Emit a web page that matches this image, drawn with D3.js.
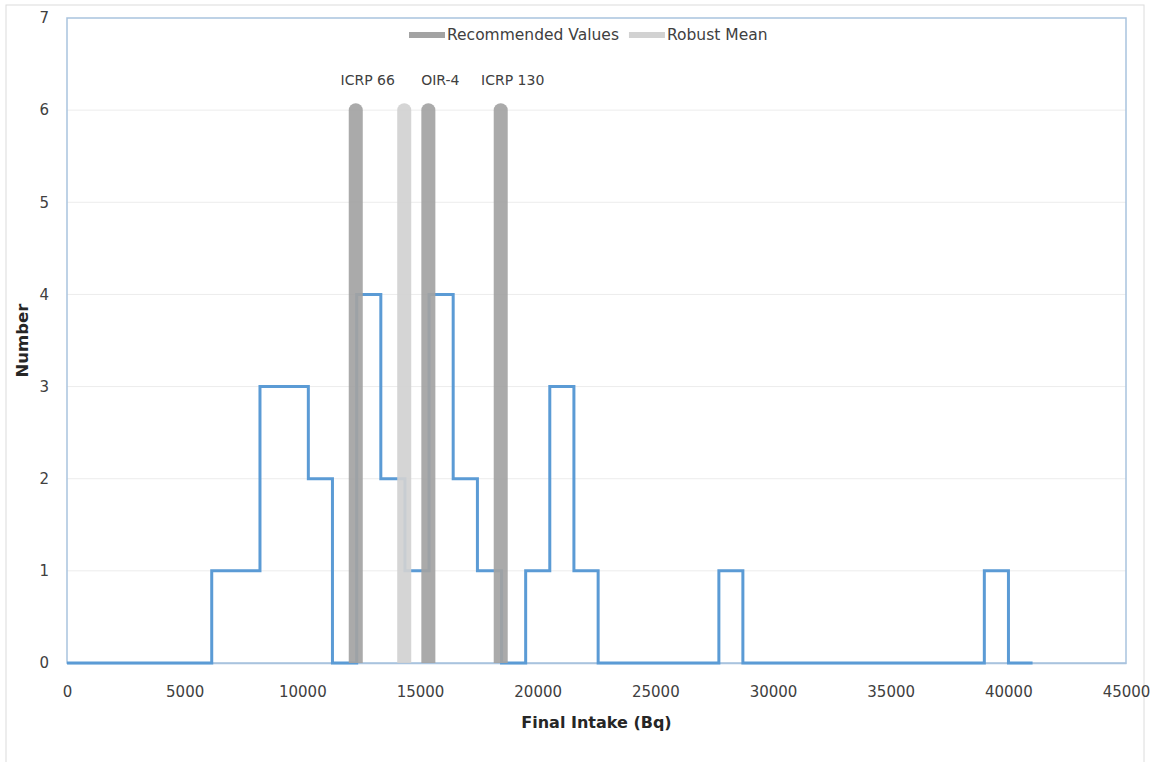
<!DOCTYPE html>
<html>
<head>
<meta charset="utf-8">
<script src="https://cdn.jsdelivr.net/npm/d3@7"></script>
<style>
  body { margin: 0; background: #fff; }
  svg text { font-family: "DejaVu Sans", sans-serif; }
</style>
</head>
<body>
<div id="chart"></div>
<script>
// histogram steps: left edge of each bin and its count (last entry closes the line)
var binStarts = [0, 6150, 8200, 10255, 11280, 12310, 13335, 14360, 15385, 16410, 17440,
                 18465, 19490, 20515, 21540, 22570, 27700, 28720, 38980, 40005, 41030];
var binCounts = [0, 1, 3, 2, 0, 4, 2, 1, 4, 2, 1, 0, 1, 3, 1, 0, 1, 0, 1, 0, 0];

// reference values
var recNames = ["ICRP 66", "OIR-4", "ICRP 130"];
var recValues = [12270, 15355, 18430];
var robustMean = 14330;
var barTop = 6;

var xTicks = [0, 5000, 10000, 15000, 20000, 25000, 30000, 35000, 40000, 45000];
var yTicks = [0, 1, 2, 3, 4, 5, 6, 7];
var legendNames = ["Recommended Values", "Robust Mean"];

var W = 1166, H = 762;
var plotL = 67, plotR = 1126, plotT = 18, plotB = 663;

var svg = d3.select("#chart").append("svg")
    .attr("width", W)
    .attr("height", H);

var x = d3.scaleLinear().domain([0, 45000]).range([plotL, plotR]);
var y = d3.scaleLinear().domain([0, 7]).range([plotB, plotT]);

// faint outer frame
svg.append("rect")
    .attr("x", 6).attr("y", 5)
    .attr("width", 1138).attr("height", 770)
    .attr("fill", "none").attr("stroke", "#dcdcdc").attr("stroke-width", 1);

// gridlines
svg.append("g").selectAll("line")
    .data(yTicks.slice(1, -1))
    .enter().append("line")
    .attr("x1", plotL).attr("x2", plotR)
    .attr("y1", function (d) { return y(d); })
    .attr("y2", function (d) { return y(d); })
    .attr("stroke", "#ececec").attr("stroke-width", 1);

// plot area border
svg.append("rect")
    .attr("x", plotL).attr("y", plotT)
    .attr("width", plotR - plotL).attr("height", plotB - plotT)
    .attr("fill", "none").attr("stroke", "#a9c3de").attr("stroke-width", 1.5);

// axes (labels only)
var xAxis = svg.append("g")
    .attr("transform", "translate(0," + plotB + ")")
    .call(d3.axisBottom(x).tickValues(xTicks).tickSize(0).tickPadding(23).tickFormat(d3.format("d")));
xAxis.select(".domain").attr("stroke", "#a9c3de").attr("stroke-width", 1.5);
xAxis.selectAll("text").attr("font-size", 15).attr("fill", "#404040")
    .style("font-family", "DejaVu Sans, sans-serif");

var yAxis = svg.append("g")
    .attr("transform", "translate(" + plotL + ",0)")
    .call(d3.axisLeft(y).tickValues(yTicks).tickSize(0).tickPadding(18).tickFormat(d3.format("d")));
yAxis.select(".domain").remove();
yAxis.selectAll("text").attr("font-size", 15).attr("fill", "#404040")
    .style("font-family", "DejaVu Sans, sans-serif");

// histogram step line
var pts = binStarts.map(function (d, i) { return [d, binCounts[i]]; });
var line = d3.line()
    .x(function (d) { return x(d[0]); })
    .y(function (d) { return y(d[1]); })
    .curve(d3.curveStepAfter);

svg.append("path")
    .datum(pts)
    .attr("d", line)
    .attr("fill", "none")
    .attr("stroke", "#5b9bd5")
    .attr("stroke-width", 3);

// vertical reference bars
svg.append("clipPath").attr("id", "plotclip")
    .append("rect").attr("x", plotL).attr("y", 0)
    .attr("width", plotR - plotL).attr("height", plotB);

var bars = svg.append("g").attr("clip-path", "url(#plotclip)");

bars.append("line")
    .attr("x1", x(robustMean)).attr("x2", x(robustMean))
    .attr("y1", y(0) + 8).attr("y2", y(barTop))
    .attr("stroke", "#d2d2d2").attr("stroke-width", 14)
    .attr("stroke-linecap", "round").attr("opacity", 0.92);

bars.selectAll(".rec")
    .data(recValues)
    .enter().append("line")
    .attr("class", "rec")
    .attr("x1", function (d) { return x(d); })
    .attr("x2", function (d) { return x(d); })
    .attr("y1", y(0) + 8).attr("y2", y(barTop))
    .attr("stroke", "#a3a3a3").attr("stroke-width", 14)
    .attr("stroke-linecap", "round").attr("opacity", 0.92);

svg.selectAll(".reclabel")
    .data(recValues)
    .enter().append("text")
    .attr("class", "reclabel")
    .attr("x", function (d) { return x(d) + 12; })
    .attr("y", y(barTop) - 30)
    .attr("dy", "0.35em")
    .attr("text-anchor", "middle")
    .attr("font-size", 14)
    .attr("fill", "#404040")
    .text(function (d, i) { return recNames[i]; });

// legend
var legend = svg.append("g");
var lx = 409, ly = 35;
var legColors = ["#a3a3a3", "#d2d2d2"];
legendNames.forEach(function (name, i) {
    legend.append("line")
        .attr("x1", lx).attr("x2", lx + 36)
        .attr("y1", ly).attr("y2", ly)
        .attr("stroke", legColors[i]).attr("stroke-width", 6);
    var t = legend.append("text")
        .attr("x", lx + 38).attr("y", ly)
        .attr("dy", "0.35em")
        .attr("font-size", 15.5)
        .attr("fill", "#404040")
        .text(name);
    lx = lx + 38 + t.node().getComputedTextLength() + 10;
});

// axis titles
svg.append("text")
    .attr("x", (plotL + plotR) / 2).attr("y", 728)
    .attr("text-anchor", "middle")
    .attr("font-size", 16).attr("font-weight", "bold")
    .attr("fill", "#262626")
    .text("Final Intake (Bq)");

svg.append("text")
    .attr("transform", "translate(28," + ((plotT + plotB) / 2) + ") rotate(-90)")
    .attr("text-anchor", "middle")
    .attr("font-size", 16.5).attr("font-weight", "bold")
    .attr("fill", "#262626")
    .text("Number");
</script>
</body>
</html>
